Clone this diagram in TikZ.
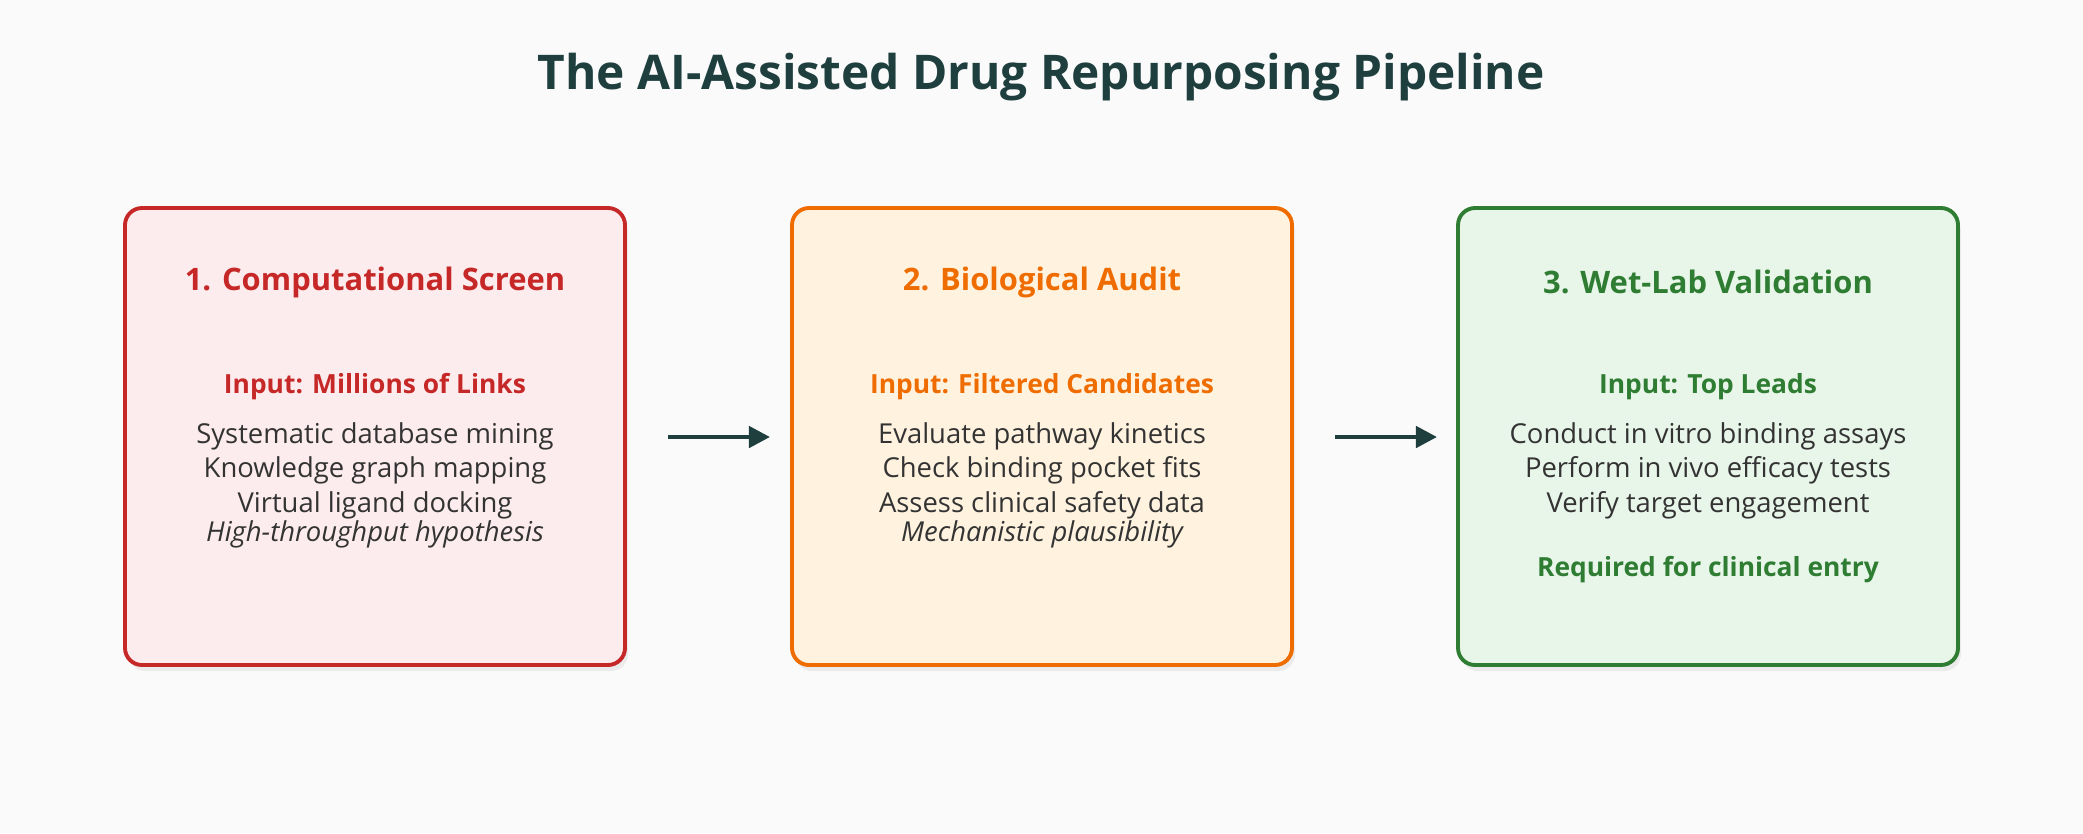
\documentclass[tikz,border=0pt]{standalone}
\usepackage{fontspec}
\setmainfont{Open Sans}
\usetikzlibrary{arrows.meta}
\definecolor{ttl}{HTML}{1F3F3F}
\definecolor{rB}{HTML}{C62828}\definecolor{rF}{HTML}{FDECEE}
\definecolor{oB}{HTML}{EF6C00}\definecolor{oF}{HTML}{FFF3E0}
\definecolor{gB}{HTML}{2E7D32}\definecolor{gF}{HTML}{E8F5E9}
\definecolor{txt}{HTML}{333333}
\definecolor{bg}{HTML}{FAFAFA}
\begin{document}
\begin{tikzpicture}[x=0.01cm,y=-0.01cm,
 box/.style={draw=#1,line width=1.1pt,rounded corners=0.17cm},
 btitle/.style={font=\fontsize{8.8pt}{10pt}\selectfont\bfseries,text=#1},
 inp/.style={font=\fontsize{7.5pt}{9pt}\selectfont\bfseries,text=#1},
 body/.style={font=\fontsize{7.8pt}{9pt}\selectfont,text=txt},
 ital/.style={font=\fontsize{7.8pt}{9pt}\selectfont\itshape,text=txt},
 arr/.style={-{Triangle[length=6pt,width=6pt]},line width=1.3pt,draw=ttl}]
\useasboundingbox[fill=bg] (0,0) rectangle (2083,833);
\node[font=\fontsize{13.6pt}{15pt}\selectfont\bfseries,text=ttl] (title) at (1041,77) {The AI-Assisted Drug Repurposing Pipeline};
\foreach \x/\b/\f/\n in {125/rB/rF/b1,792/oB/oF/b2,1458/gB/gF/b3}{
 \fill[black!8,rounded corners=0.17cm] (\x+3,214) rectangle (\x+503,671);
 \draw[box=\b,fill=\f] (\x,208) rectangle (\x+500,665);
 \coordinate (\n) at (\x+250,0);
}
\node[btitle=rB] (t1) at (375,282) {1. Computational Screen};
\node[inp=rB] (i1) at (375,387) {Input: Millions of Links};
\node[body] (a1) at (375,436) {Systematic database mining};
\node[body] (a2) at (375,470) {Knowledge graph mapping};
\node[body] (a3) at (375,505) {Virtual ligand docking};
\node[ital] (a4) at (375,534) {High-throughput hypothesis};
\node[btitle=oB] (t2) at (1042,282) {2. Biological Audit};
\node[inp=oB] (i2) at (1042,387) {Input: Filtered Candidates};
\node[body] (c1) at (1042,436) {Evaluate pathway kinetics};
\node[body] (c2) at (1042,470) {Check binding pocket fits};
\node[body] (c3) at (1042,505) {Assess clinical safety data};
\node[ital] (c4) at (1042,534) {Mechanistic plausibility};
\node[btitle=gB] (t3) at (1708,282) {3. Wet-Lab Validation};
\node[inp=gB] (i3) at (1708,387) {Input: Top Leads};
\node[body] (d1) at (1708,436) {Conduct in vitro binding assays};
\node[body] (d2) at (1708,470) {Perform in vivo efficacy tests};
\node[body] (d3) at (1708,505) {Verify target engagement};
\node[inp=gB] (d4) at (1708,570) {Required for clinical entry};
\coordinate (p1) at (668,437);\coordinate (q1) at (770,437);
\coordinate (p2) at (1335,437);\coordinate (q2) at (1437,437);
\draw[arr] (p1) -- (q1);
\draw[arr] (p2) -- (q2);
\end{tikzpicture}
\end{document}
